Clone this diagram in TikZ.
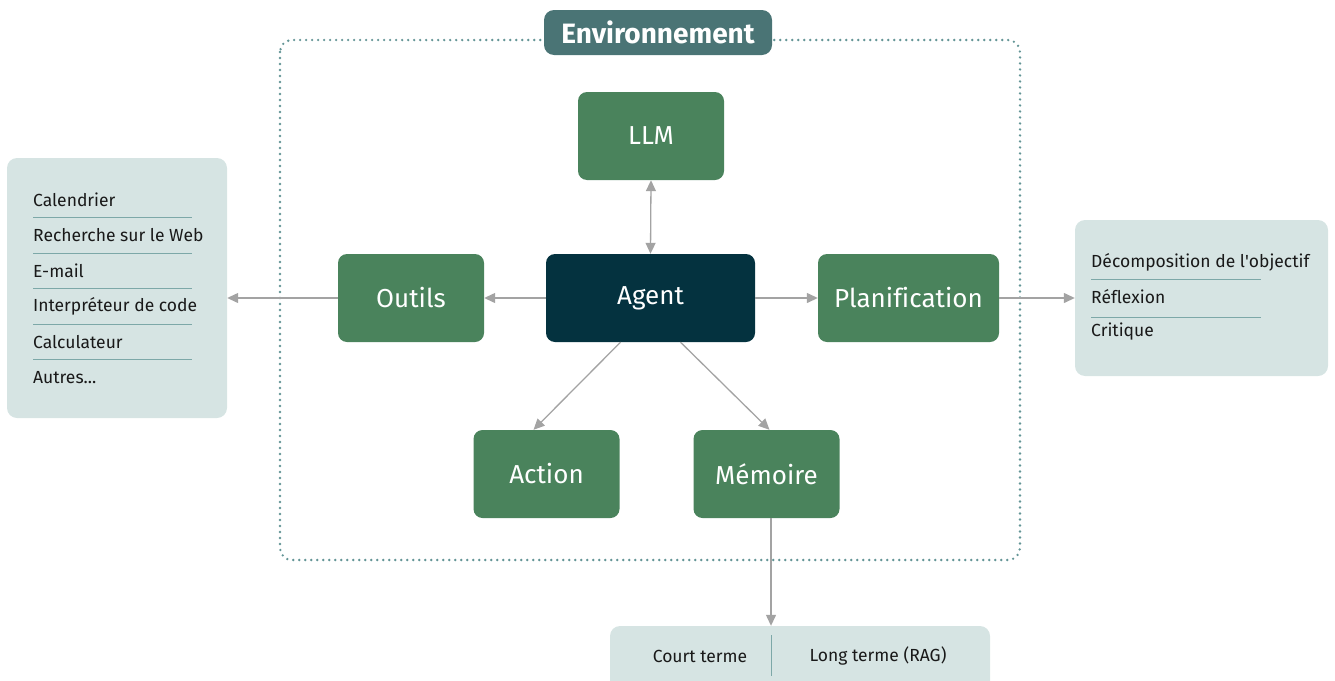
\documentclass[tikz,border=0pt]{standalone}
\usepackage{fontspec}
\setmainfont{Fira Sans}[Ligatures={NoCommon}]
\usetikzlibrary{arrows.meta}
\definecolor{boxgreen}{HTML}{4A835C}
\definecolor{agentblue}{HTML}{04323F}
\definecolor{envteal}{HTML}{4A7475}
\definecolor{panelbg}{HTML}{D6E4E3}
\definecolor{sepline}{HTML}{7DA8A8}
\definecolor{dotline}{HTML}{639596}
\definecolor{arrowgray}{HTML}{A3A3A3}
\tikzset{
  block/.style={rounded corners=9pt, minimum width=146pt, minimum height=88pt,
    fill=boxgreen, text=white, font=\fontsize{26}{30}\selectfont, inner sep=0pt},
  panel/.style={rounded corners=10pt, fill=panelbg, draw=none},
  item/.style={anchor=west, font=\fontsize{17.5}{20}\selectfont, inner sep=0pt, text=black!90},
  sep/.style={draw=sepline, line width=0.9pt},
  link/.style={draw=arrowgray, line width=1.3pt, -{Triangle[length=11pt,width=10pt]}},
}
\begin{document}
\begin{tikzpicture}[x=1pt,y=-1pt]
\useasboundingbox (0,0) rectangle (1335,680);
\clip (0,0) rectangle (1335,680);

% environment frame
\draw[dotline, line width=2.6pt, dash pattern=on 0pt off 6pt, line cap=round, rounded corners=12pt]
  (280,40) rectangle (1020,560);
\node[fill=envteal, text=white, rounded corners=10pt, minimum width=228pt, minimum height=45pt,
  inner sep=0pt, font=\bfseries\fontsize{28}{32}\selectfont] (env) at (658,32.5) {Environnement};

% main blocks
\node[block] (llm) at (651,136) {LLM};
\node[block, fill=agentblue, minimum width=209pt] (agent) at (650.5,298) {Agent};
\node[block] (outils) at (411,298) {Outils};
\node[block, minimum width=181pt] (plan) at (908.5,298) {Planification};
\node[block] (action) at (546.5,474) {Action};
\node[block] (memoire) at (766.5,474) {Mémoire};

% tools panel
\node[panel, minimum width=220pt, minimum height=260pt, inner sep=0pt] (tools) at (117,288) {};
\node[item] (t1) at (33,200) {Calendrier};
\node[item] (t2) at (33,235.5) {Recherche sur le Web};
\node[item] (t3) at (33,271) {E-mail};
\node[item] (t4) at (33,306.5) {Interpréteur de code};
\node[item] (t5) at (33,342) {Calculateur};
\node[item] (t6) at (33,377.5) {Autres...};
\foreach \yy in {217,253,288,324,359.5}
  \draw[sep] (33,\yy) -- (192,\yy);

% planning panel
\node[panel, minimum width=253pt, minimum height=156pt, inner sep=0pt] (planning) at (1201.5,298) {};
\node[item] (p1) at (1091,262) {Décomposition de l\textquotesingle objectif};
\node[item] (p2) at (1091,297) {Réflexion};
\node[item] (p3) at (1091,332) {Critique};
\foreach \yy in {279.5,317}
  \draw[sep] (1091,\yy) -- (1261,\yy);

% memory panel
\node[panel, minimum width=380pt, minimum height=70pt, inner sep=0pt] (mem) at (800,661) {};
\node[item, anchor=center] (m1) at (700,656) {Court terme};
\node[item, anchor=center] (m2) at (878,656) {Long terme (RAG)};
\draw[sepline, line width=0.9pt] (771,635) -- (771,676);

% connectors
\draw[link, {Triangle[length=11pt,width=10pt]}-{Triangle[length=11pt,width=10pt]}] (llm.south) -- (agent.north);
\draw[link] (agent.west) -- (outils.east);
\draw[link] (outils.west) -- (outils.west -| tools.east);
\draw[link] (agent.east) -- (plan.west);
\draw[link] (plan.east) -- (plan.east -| planning.west);
\draw[link] ([xshift=-30pt]agent.south) -- ([xshift=-13pt]action.north);
\draw[link] ([xshift=30pt]agent.south) -- ([xshift=3pt]memoire.north);
\draw[link] ([xshift=4.5pt]memoire.south) -- ([xshift=4.5pt]memoire.south |- mem.north);
\end{tikzpicture}
\end{document}
